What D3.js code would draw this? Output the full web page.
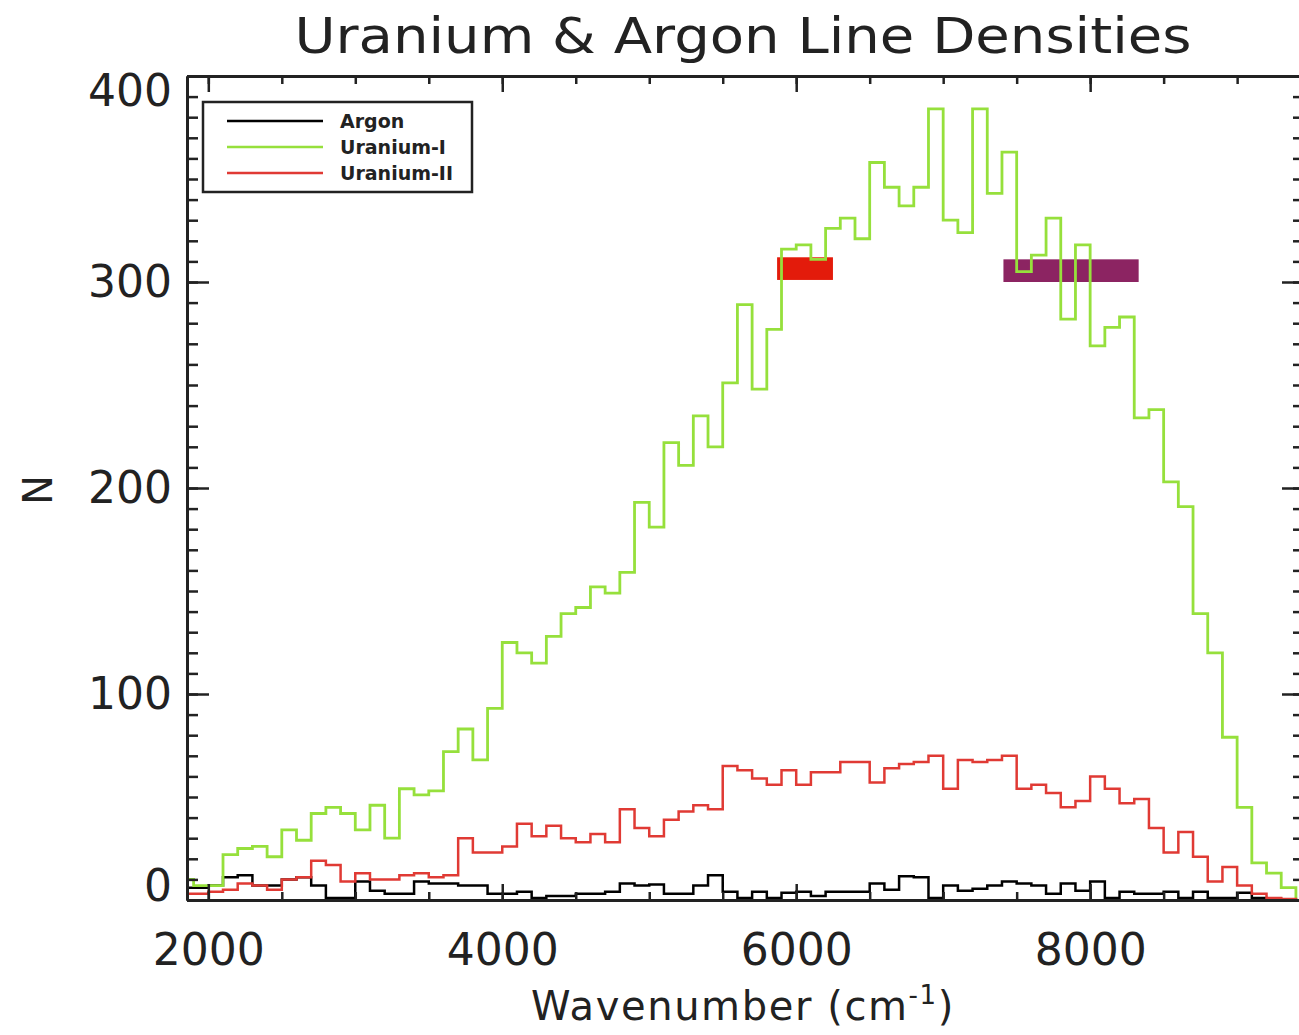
<!DOCTYPE html>
<html>
<head>
<meta charset="utf-8">
<script src="https://cdn.jsdelivr.net/npm/d3@7"></script>
<style>
  body { margin: 0; background: #fff; }
  svg { display: block; font-family: "DejaVu Sans", sans-serif; }
</style>
</head>
<body>
<div id="chart"></div>
<script>
// histogram bins, 100 cm-1 wide, value = lines per bin
var wavenumber = [1800,1900,2000,2100,2200,2300,2400,2500,2600,2700,2800,2900,
  3000,3100,3200,3300,3400,3500,3600,3700,3800,3900,4000,4100,4200,4300,4400,4500,
  4600,4700,4800,4900,5000,5100,5200,5300,5400,5500,5600,5700,5800,5900,6000,6100,
  6200,6300,6400,6500,6600,6700,6800,6900,7000,7100,7200,7300,7400,7500,7600,7700,
  7800,7900,8000,8100,8200,8300,8400,8500,8600,8700,8800,8900,9000,9100,9200,9300];
var binEnd = 9400;

var argon = [6,6,7,11,12,7,7,10,11,7,1,1,
  9,4.5,3,3,9,8,8,7,7,3,3,4,1,2,2,3,
  3,4,8,7,7.5,3,3,7,12,4,1,4,1,3.5,4,2,
  4,4,4,8,5,11.5,11,1,7,4.5,5.5,7,9,8,7,3,
  8,4.5,9,1,4,3,3,4,1,4,1,1,3.5,1,0.5,0.3];

var uranium1 = [10,7,7,22,25,26,21,34,29,42,45,42,
  34,46,30,54,51,53,72,83,68,93,125,120,115,128,139,142,
  152,149,159,193,181,222,211,235,220,251,289,248,277,316,318,311,
  326,331,321,358,346,337,346,384,330,324,384,343,363,305,313,331,
  282,318,269,278,283,234,238,203,191,139,120,79,45,18,13,6];

var uranium2 = [3,3,4,5,8,7,5,10,11,19,17,9,
  13,10,10,12,13,11,12,30,23,23,26,37,31,36,30,28,
  32,28,44,35,31,39,43,46,44,65,63,59,56,63,56,62,
  62,67,67,57,64,66,67,70,54,68,67,68,70,54,56,52,
  45,48,60,54,47,49,35,23,33,21,9,16,7,3,1,0.5];

// highlighted bands
var bandStart = [5870, 7410];
var bandEnd = [6250, 8330];
var bandLow = [301, 300];
var bandHigh = [312, 311];

var xTicks = [2000, 4000, 6000, 8000];
var yTicks = [0, 100, 200, 300, 400];
var legendNames = ["Argon", "Uranium-I", "Uranium-II"];

var colors = ["#000000", "#96e03c", "#e03a34"];
var bandColors = ["#e31b0b", "#8c2462"];

var svgWidth = 1299, svgHeight = 1035;
var plotLeft = 187, plotRight = 1304, plotTop = 76, plotBottom = 900;

var svg = d3.select("#chart").append("svg")
  .attr("width", svgWidth)
  .attr("height", svgHeight);

var x = d3.scaleLinear().domain([1855, 9455]).range([plotLeft, plotRight]);
var y = d3.scaleLinear().domain([0, 400]).range([plotBottom, plotTop]);

svg.append("clipPath").attr("id", "plotclip")
  .append("rect")
  .attr("x", plotLeft).attr("y", plotTop)
  .attr("width", plotRight - plotLeft).attr("height", plotBottom - plotTop);

var plot = svg.append("g").attr("clip-path", "url(#plotclip)");

// bands
plot.selectAll("rect.band")
  .data(bandStart)
  .enter().append("rect")
  .attr("class", "band")
  .attr("x", d => x(d))
  .attr("width", (d, i) => x(bandEnd[i]) - x(d))
  .attr("y", (d, i) => y(bandHigh[i]))
  .attr("height", (d, i) => y(bandLow[i]) - y(bandHigh[i]))
  .attr("fill", (d, i) => bandColors[i]);

// step lines
var step = d3.line()
  .x(d => x(d[0]))
  .y(d => y(d[1]))
  .curve(d3.curveStepAfter);

function pts(vals) {
  var p = wavenumber.map((w, i) => [w, vals[i]]);
  p.push([binEnd, vals[vals.length - 1]]);
  p.push([binEnd, 0]);
  return p;
}

[argon, uranium1, uranium2].forEach(function(vals, i) {
  plot.append("path")
    .attr("d", step(pts(vals)))
    .attr("fill", "none")
    .attr("stroke", colors[i])
    .attr("stroke-width", i == 1 ? 2.8 : 2.5);
});

// axes
function styleAxis(g) {
  g.selectAll("path.domain").attr("stroke", "#222").attr("stroke-width", 3);
  g.selectAll(".tick line").attr("stroke", "#222").attr("stroke-width", 2.5);
}

var minorY = d3.range(0, 401, 10);
var minorX = d3.range(2000, 9455, 500);
var fmt = d3.format("d");

// left
svg.append("g").attr("transform", `translate(${plotLeft},0)`)
  .call(d3.axisLeft(y).tickValues(minorY).tickSize(-11).tickSizeOuter(0).tickFormat(""))
  .call(styleAxis);
var yAx = svg.append("g").attr("transform", `translate(${plotLeft},0)`)
  .call(d3.axisLeft(y).tickValues(yTicks).tickSize(-22).tickSizeOuter(0).tickPadding(15).tickFormat(fmt))
  .call(styleAxis);
yAx.selectAll("text")
  .attr("font-size", 44)
  .attr("fill", "#222")
  .attr("font-family", "DejaVu Sans")
  .attr("dy", d => d == 0 ? "0.02em" : d == 400 ? "0.68em" : "0.34em");

// right
svg.append("g").attr("transform", `translate(${plotRight},0)`)
  .call(d3.axisRight(y).tickValues(minorY).tickSize(-11).tickSizeOuter(0).tickFormat(""))
  .call(styleAxis);
svg.append("g").attr("transform", `translate(${plotRight},0)`)
  .call(d3.axisRight(y).tickValues(yTicks).tickSize(-22).tickSizeOuter(0).tickFormat(""))
  .call(styleAxis);

// top
svg.append("g").attr("transform", `translate(0,${plotTop})`)
  .call(d3.axisTop(x).tickValues(minorX).tickSize(-8).tickSizeOuter(0).tickFormat(""))
  .call(styleAxis);
svg.append("g").attr("transform", `translate(0,${plotTop})`)
  .call(d3.axisTop(x).tickValues(xTicks).tickSize(-16).tickSizeOuter(0).tickFormat(""))
  .call(styleAxis);

// bottom
svg.append("g").attr("transform", `translate(0,${plotBottom})`)
  .call(d3.axisBottom(x).tickValues(minorX).tickSize(-8).tickSizeOuter(0).tickFormat(""))
  .call(styleAxis);
var xAx = svg.append("g").attr("transform", `translate(0,${plotBottom})`)
  .call(d3.axisBottom(x).tickValues(xTicks).tickSize(-16).tickSizeOuter(0).tickPadding(34).tickFormat(fmt))
  .call(styleAxis);
xAx.selectAll("text")
  .attr("font-size", 44)
  .attr("fill", "#222")
  .attr("font-family", "DejaVu Sans");

// titles
svg.append("text")
  .attr("x", 743).attr("y", 53)
  .attr("text-anchor", "middle")
  .attr("font-size", 49)
  .attr("fill", "#222")
  .attr("textLength", 897)
  .attr("lengthAdjust", "spacingAndGlyphs")
  .text("Uranium & Argon Line Densities");

var xt = svg.append("text")
  .attr("x", 743).attr("y", 1020)
  .attr("text-anchor", "middle")
  .attr("font-size", 40)
  .attr("letter-spacing", 1.6)
  .attr("fill", "#222");
xt.append("tspan").text("Wavenumber (cm");
xt.append("tspan").attr("font-size", 26).attr("dy", -16).text("-1");
xt.append("tspan").attr("dy", 16).text(")");

svg.append("text")
  .attr("transform", "translate(52,490) rotate(-90)")
  .attr("text-anchor", "middle")
  .attr("font-size", 40)
  .attr("fill", "#222")
  .text("N");

// legend
var leg = svg.append("g");
leg.append("rect")
  .attr("x", 203).attr("y", 102)
  .attr("width", 269).attr("height", 90)
  .attr("fill", "#fff")
  .attr("stroke", "#222")
  .attr("stroke-width", 2.5);
legendNames.forEach(function(name, i) {
  var ly = 121 + i * 26;
  leg.append("line")
    .attr("x1", 227).attr("x2", 323)
    .attr("y1", ly).attr("y2", ly)
    .attr("stroke", colors[i])
    .attr("stroke-width", 2.4);
  leg.append("text")
    .attr("x", 340).attr("y", ly + 7)
    .attr("font-size", 19)
    .attr("font-weight", "bold")
    .attr("fill", "#222")
    .text(name);
});
</script>
</body>
</html>
